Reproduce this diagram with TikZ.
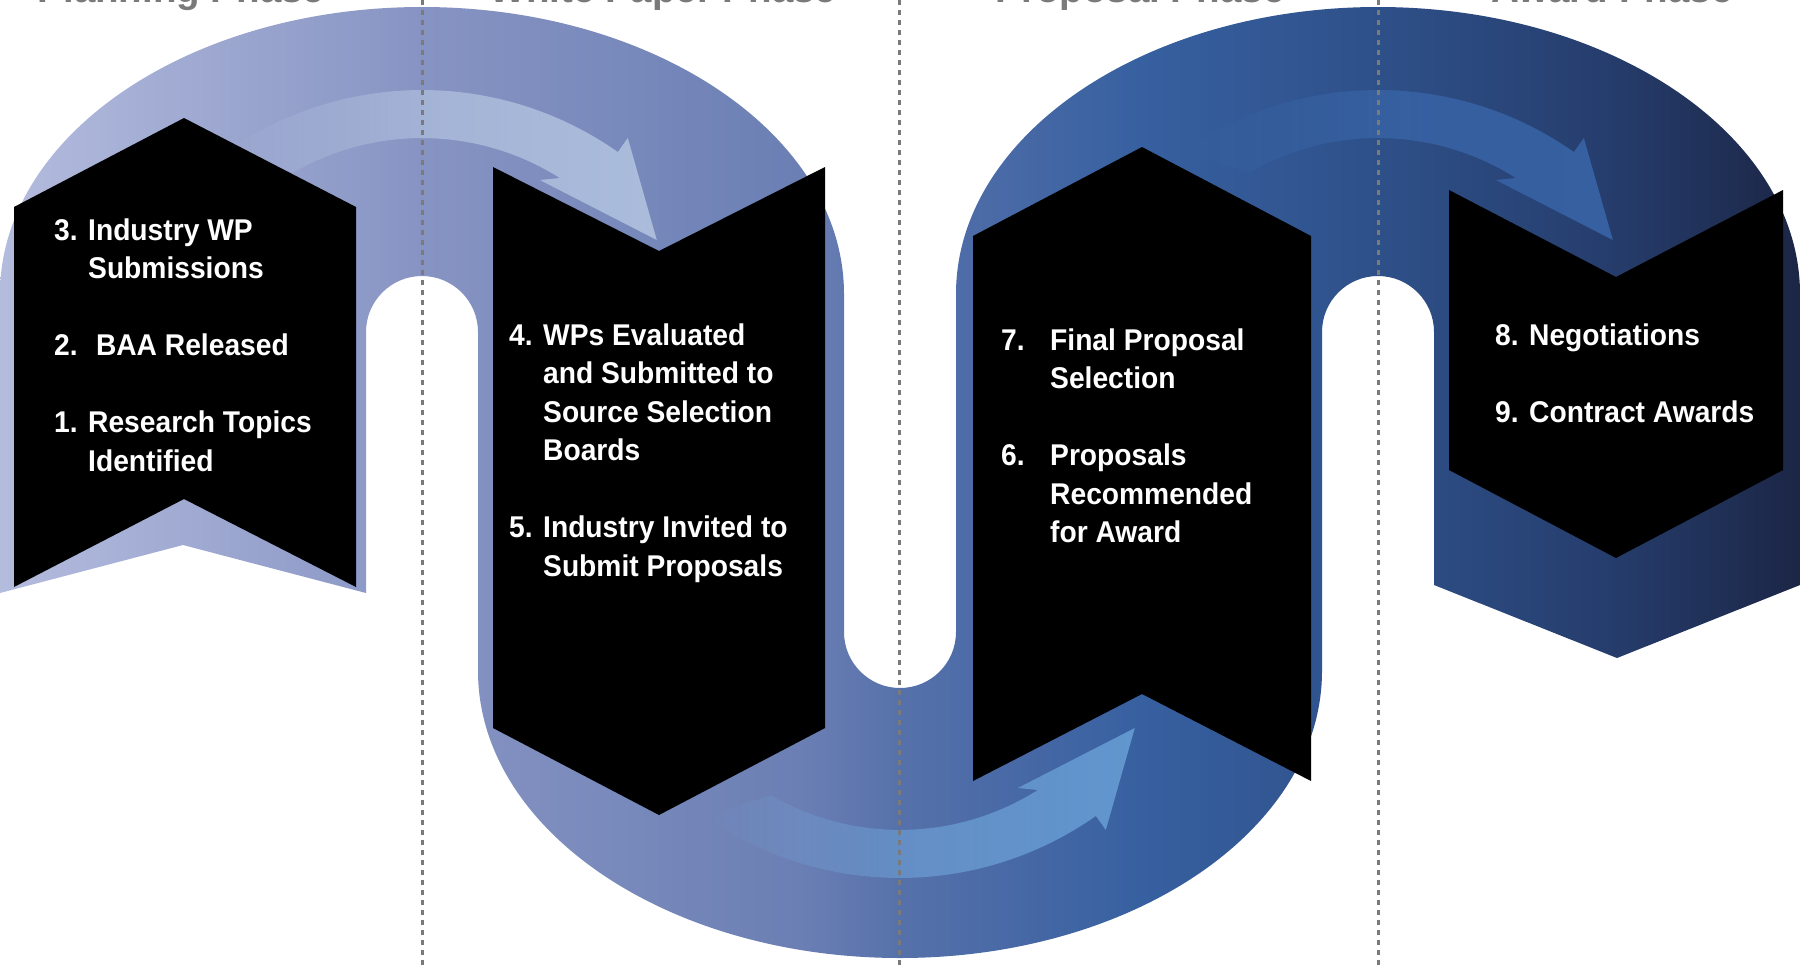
\documentclass[tikz,border=0pt]{standalone}
\usepackage{fontspec}
\setmainfont{Liberation Sans}
\newfontfamily\boxfont{Liberation Sans}[FakeStretch=0.94]
\usetikzlibrary{fadings}

\definecolor{bandA}{HTML}{B4BCDE}
\definecolor{bandB}{HTML}{8794C3}
\definecolor{bandC}{HTML}{6B7FB4}
\definecolor{bandD}{HTML}{5671AA}
\definecolor{bandE}{HTML}{3760A0}
\definecolor{bandF}{HTML}{2E5089}
\definecolor{bandG}{HTML}{263E6E}
\definecolor{bandH}{HTML}{1C2646}
\definecolor{arrowA}{HTML}{C2D4EA}
\definecolor{arrowB}{HTML}{74AEE2}
\definecolor{arrowC}{HTML}{3E70B8}
\definecolor{phasegray}{HTML}{7A7A7A}

\pgfdeclarehorizontalshading{bandshade}{100bp}{color(0bp)=(bandA); color(25bp)=(bandA); color(36.7bp)=(bandB); color(47.2bp)=(bandC); color(50bp)=(bandD); color(56.7bp)=(bandE); color(63.3bp)=(bandF); color(69.4bp)=(bandG); color(75bp)=(bandH); color(100bp)=(bandH)}
\tikzfading[name=tailfade, left color=transparent!100, right color=transparent!0, middle color=transparent!25]

\newcommand{\flowarrow}{(-195.6,151.7) arc[start angle=-125, end angle=-54.9, radius=341] -- (206,138) -- (235,240) -- (118,180) -- (138,178) arc[start angle=-57.7, end angle=-120, radius=258] -- cycle}
\newcommand{\steplist}[2]{\begin{tabular}[t]{@{}p{#1}@{}l@{}}#2\end{tabular}}

\tikzset{
	stepbox/.style={fill=black},
	steptext/.style={anchor=base west, inner sep=0pt, text=white, font=\boxfont\bfseries\fontsize{30bp}{38.5bp}\selectfont},
	phasetitle/.style={anchor=base, inner sep=0pt, text=phasegray, font=\bfseries\fontsize{38.5bp}{46bp}\selectfont},
	divider/.style={draw=phasegray, line width=3bp, dash pattern=on 5bp off 5bp},
	flow/.style={fill=#1, fill opacity=.7, path fading=tailfade}
}

\begin{document}
\begin{tikzpicture}[x=1bp, y=-1bp]
	\useasboundingbox (0,0) rectangle (1806,973);

	\shade[shading=bandshade] (0,593) -- (0,294) arc[start angle=180, end angle=360, x radius=422, y radius=287] -- (844,632) arc[start angle=180, end angle=0, radius=56] -- (956,294) arc[start angle=180, end angle=360, x radius=422, y radius=287] -- (1800,585) -- (1617,658) -- (1434,585) -- (1434,332) arc[start angle=0, end angle=-180, radius=56] -- (1322,671) arc[start angle=0, end angle=180, x radius=422, y radius=287] -- (478,332) arc[start angle=0, end angle=-180, radius=56] -- (366,593) -- (183,545) -- cycle;

	\fill[flow=arrowA, shift={(422,0)}] \flowarrow;
	\fill[flow=arrowB, shift={(900,968)}, yscale=-1] \flowarrow;
	\fill[flow=arrowC, shift={(1378,0)}] \flowarrow;

	\foreach \x in {422,899,1378}
		\draw[divider] (\x,0) -- (\x,967);

	\fill[stepbox] (14,207) -- (184,118) -- (356,207) -- (356,587) -- (184,499) -- (14,587) -- cycle;
	\fill[stepbox] (493,167) -- (659,251) -- (825,167) -- (825,728) -- (659,815) -- (493,728) -- cycle;
	\fill[stepbox] (973,236) -- (1142,147) -- (1311,236) -- (1311,781) -- (1142,694) -- (973,781) -- cycle;
	\fill[stepbox] (1449,190) -- (1616,277) -- (1783,190) -- (1783,470) -- (1616,558) -- (1449,470) -- cycle;

	\node[steptext] (planning steps) at (54,240) {\steplist{34bp}{3. & Industry WP\\ & Submissions\\ & \\ 2. & \ BAA Released\\ & \\ 1. & Research Topics\\ & Identified}};
	\node[steptext] (paper steps) at (509,345) {\steplist{34bp}{4. & WPs Evaluated\\ & and Submitted to\\ & Source Selection\\ & Boards\\ & \\ 5. & Industry Invited to\\ & Submit Proposals}};
	\node[steptext] (proposal steps) at (1001,350) {\steplist{49bp}{7. & Final Proposal\\ & Selection\\ & \\ 6. & Proposals\\ & Recommended\\ & for Award}};
	\node[steptext] (award steps) at (1495,345) {\steplist{34bp}{8. & Negotiations\\ & \\ 9. & Contract Awards}};

	\node[phasetitle] (planning) at (181,2) {Planning Phase};
	\node[phasetitle] (white paper) at (663,2) {White Paper Phase};
	\node[phasetitle] (proposal) at (1140,2) {Proposal Phase};
	\node[phasetitle] (award) at (1612,2) {Award Phase};
\end{tikzpicture}
\end{document}
